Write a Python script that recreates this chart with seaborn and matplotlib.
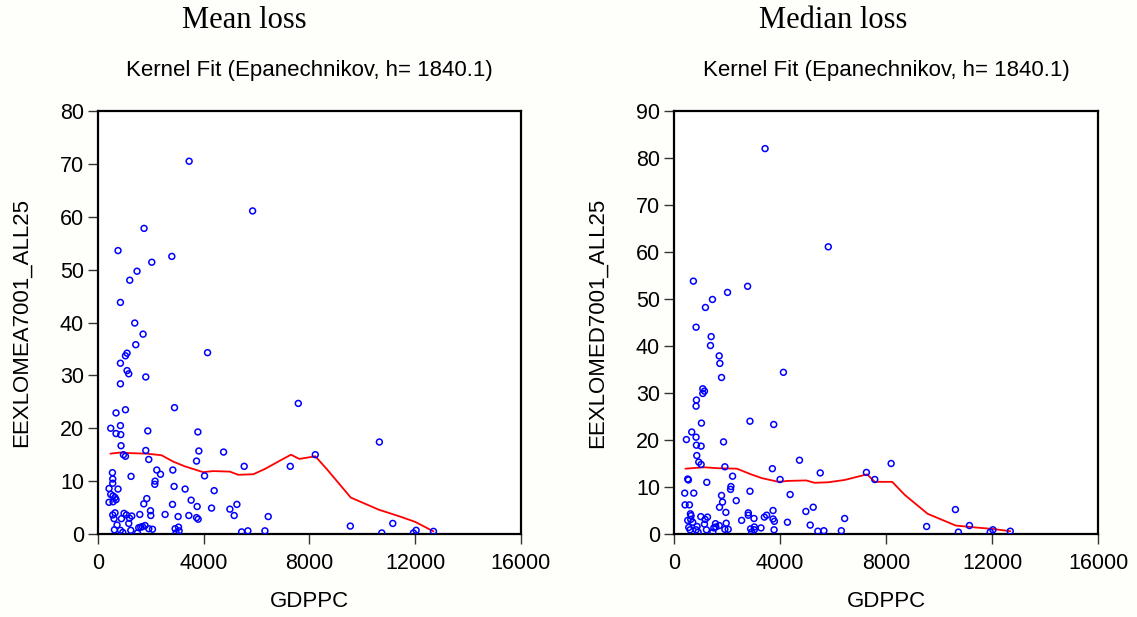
import matplotlib
matplotlib.use('Agg')
import matplotlib.pyplot as plt
import seaborn as sns
import pandas as pd

# GDP per capita vs loss
gdppc_mean = [3447, 5848, 1742, 758, 2792, 2034, 1477, 1201, 848, 1390, 1705, 1428, 1099, 1038, 4144,
              848, 1099, 1163, 1807, 848, 7576, 2894, 1038, 682, 481, 848, 682, 860, 1883, 3777,
              10644, 871, 1807, 3814, 4750, 962, 1038, 8220, 1920, 3727, 5530, 7273, 545, 2223, 2364,
              2830, 1250, 4030, 557, 557, 2159, 2148, 417, 758, 2879, 4394, 481, 568, 644, 3295,
              417, 568, 682, 1845, 1731, 3523, 2818, 3750, 5254, 4295, 4989, 1985, 5152, 644, 557,
              985, 1076, 1277, 1580, 1996, 606, 886, 1189, 2538, 3030, 3436, 3727, 3788, 6439, 720,
              1163, 1780, 9545, 11151, 621, 848, 936, 1239, 1492, 1542, 1617, 1682, 1920, 2061, 2917,
              2955, 3045, 3068, 5432, 5670, 6314, 10735, 11932, 12034, 12690]
loss_mean = [70.5, 61.1, 57.8, 53.6, 52.5, 51.4, 49.7, 48.0, 43.8, 39.9, 37.8, 35.8, 34.2, 33.7, 34.3,
             32.3, 30.9, 30.3, 29.7, 28.4, 24.7, 23.9, 23.5, 22.9, 20.0, 20.5, 19.0, 18.8, 19.5, 19.3,
             17.4, 16.7, 15.8, 15.7, 15.5, 15.0, 14.7, 15.0, 14.1, 13.8, 12.8, 12.8, 11.6, 12.1, 11.3,
             12.1, 10.9, 11.0, 10.4, 9.6, 10.0, 9.4, 8.6, 8.5, 9.0, 8.2, 7.5, 7.2, 6.9, 8.5,
             6.0, 6.1, 6.5, 6.7, 5.7, 6.4, 5.6, 5.2, 5.6, 4.9, 4.7, 4.4, 3.5, 4.0, 3.6,
             3.9, 3.6, 3.4, 3.7, 3.5, 2.9, 2.9, 3.0, 3.7, 3.3, 3.5, 3.1, 2.8, 3.3, 1.7,
             2.0, 1.6, 1.5, 2.0, 0.8, 0.7, 0.3, 0.7, 0.2, 1.2, 1.3, 1.4, 1.0, 0.9, 1.0,
             0.2, 1.3, 0.6, 0.4, 0.6, 0.6, 0.2, 0.2, 0.7, 0.5]

kernel_x_mean = [470, 822, 1201, 1833, 2402, 2841, 3284, 3977, 4356, 4989, 5303, 5871, 6314, 6818,
                 7299, 7614, 8220, 8651, 9560, 10621, 11428, 11997, 12690]
kernel_y_mean = [15.2, 15.4, 15.3, 15.2, 14.9, 13.7, 12.8, 11.7, 11.9, 11.8, 11.2, 11.3, 12.3, 13.7,
                 15.0, 14.2, 14.7, 12.3, 6.9, 4.6, 3.3, 2.3, 0.5]

gdppc_median = [3436, 5822, 731, 2777, 2020, 1451, 1186, 833, 1402, 1376, 1705, 1730, 4129, 1793,
                1086, 1149, 1086, 846, 833, 2866, 3763, 1035, 669, 467, 833, 846, 1023, 1869, 859,
                934, 1023, 1919, 3712, 4735, 8194, 5518, 7261, 7576, 518, 543, 1237, 2210, 4003,
                2147, 2134, 2866, 404, 745, 1793, 4382, 2348, 1831, 417, 581, 1717, 5253, 10619,
                3737, 4975, 1957, 2803, 2803, 3497, 3409, 619, 644, 1010, 1263, 1174, 518, 631, 707,
                2551, 3018, 3737, 3788, 6439, 4280, 5140, 1149, 1565, 1970, 9533, 11149, 556, 871,
                1503, 1579, 1705, 2891, 3030, 3284, 606, 833, 1224, 1919, 2045, 3030, 909, 1466, 2929,
                3776, 5428, 5655, 6314, 10732, 11932, 12034, 12689]
loss_median = [82.0, 61.1, 53.8, 52.7, 51.4, 49.9, 48.2, 44.0, 42.0, 40.1, 37.9, 36.3, 34.4, 33.3,
               30.9, 30.4, 29.9, 28.5, 27.2, 24.0, 23.3, 23.6, 21.7, 20.1, 20.6, 18.9, 18.7, 19.6, 16.7,
               15.3, 14.8, 14.3, 13.9, 15.7, 15.0, 13.0, 13.1, 11.6, 11.7, 11.5, 11.0, 12.3, 11.6,
               10.1, 9.5, 9.1, 8.7, 8.7, 8.2, 8.4, 7.1, 6.8, 6.2, 6.2, 5.7, 5.7, 5.2,
               5.0, 4.8, 4.6, 4.5, 4.0, 4.0, 3.6, 4.3, 3.9, 3.7, 3.6, 3.1, 2.9, 3.1, 2.5,
               2.9, 3.3, 3.2, 2.7, 3.3, 2.5, 1.9, 2.1, 2.2, 2.3, 1.6, 1.8, 1.4, 1.6,
               1.3, 1.5, 1.8, 1.1, 1.5, 1.3, 0.9, 0.9, 0.9, 1.0, 1.0, 0.9, 0.4, 0.4, 0.4,
               0.9, 0.6, 0.7, 0.7, 0.4, 0.4, 0.9, 0.6]

kernel_x_median = [430, 1136, 1641, 2374, 2904, 3308, 3939, 4293, 4988, 5303, 5808, 6439, 7285,
                   7576, 8232, 8712, 9571, 10633, 11364, 11997, 12690]
kernel_y_median = [13.9, 14.2, 14.0, 13.9, 12.7, 11.9, 11.1, 11.3, 11.4, 10.9, 11.0, 11.5, 12.7,
                   11.1, 11.1, 8.3, 4.3, 1.8, 1.4, 1.1, 0.6]

x_ticks = [0, 4000, 8000, 12000, 16000]

sns.set_style('white')
plt.rcParams['font.family'] = ['Liberation Sans', 'DejaVu Sans']
plt.rcParams['text.color'] = 'black'
plt.rcParams['axes.labelcolor'] = 'black'
plt.rcParams['xtick.color'] = 'black'
plt.rcParams['ytick.color'] = 'black'


def draw_panel(fig, rect, gx, loss, kx, ky, ymax, ylabel):
    ax = fig.add_axes(rect)
    ax.set_facecolor('white')
    scatter_df = pd.DataFrame({'GDPPC': gx, 'loss': loss})
    kernel_df = pd.DataFrame({'GDPPC': kx, 'fit': ky})
    sns.scatterplot(data=scatter_df, x='GDPPC', y='loss', ax=ax, marker='o', s=18,
                    facecolors='none', edgecolor='blue', linewidth=1.1, zorder=3)
    sns.lineplot(data=kernel_df, x='GDPPC', y='fit', ax=ax, color='red', linewidth=1.3,
                 sort=False, estimator=None, zorder=2)
    ax.set_xlim(0, 16000)
    ax.set_ylim(0, ymax)
    ax.set_xticks(x_ticks)
    ax.set_yticks(list(range(0, ymax + 1, 10)))
    ax.tick_params(axis='both', which='major', direction='out', length=7, width=1,
                   color='#333333', labelcolor='black', labelsize=15.5, bottom=True, left=True)
    ax.tick_params(axis='x', pad=7)
    ax.tick_params(axis='y', pad=3)
    for sp in ax.spines.values():
        sp.set_color('black')
        sp.set_linewidth(1.6)
    ax.set_xlabel('GDPPC', fontsize=16, labelpad=12, color='black')
    ax.set_ylabel(ylabel, fontsize=16, labelpad=20, color='black')
    ax.set_title('Kernel Fit (Epanechnikov, h= 1840.1)', fontsize=16, pad=25, color='black')
    return ax


fig = plt.figure(figsize=(11.37, 6.17), dpi=100)
fig.patch.set_facecolor('#fefefb')

draw_panel(fig, [0.0862, 0.1345, 0.3720, 0.6856], gdppc_mean, loss_mean,
           kernel_x_mean, kernel_y_mean, 80, 'EEXLOMEA7001_ALL25')
draw_panel(fig, [0.5928, 0.1345, 0.3729, 0.6856], gdppc_median, loss_median,
           kernel_x_median, kernel_y_median, 90, 'EEXLOMED7001_ALL25')

fig.text(244.5 / 1137, 1 - 21 / 617, 'Mean loss', family='Liberation Serif', fontsize=22,
         ha='center', va='center', color='black')
fig.text(833 / 1137, 1 - 21 / 617, 'Median loss', family='Liberation Serif', fontsize=22,
         ha='center', va='center', color='black')

fig.savefig('out.png', dpi=100, facecolor=fig.get_facecolor())
